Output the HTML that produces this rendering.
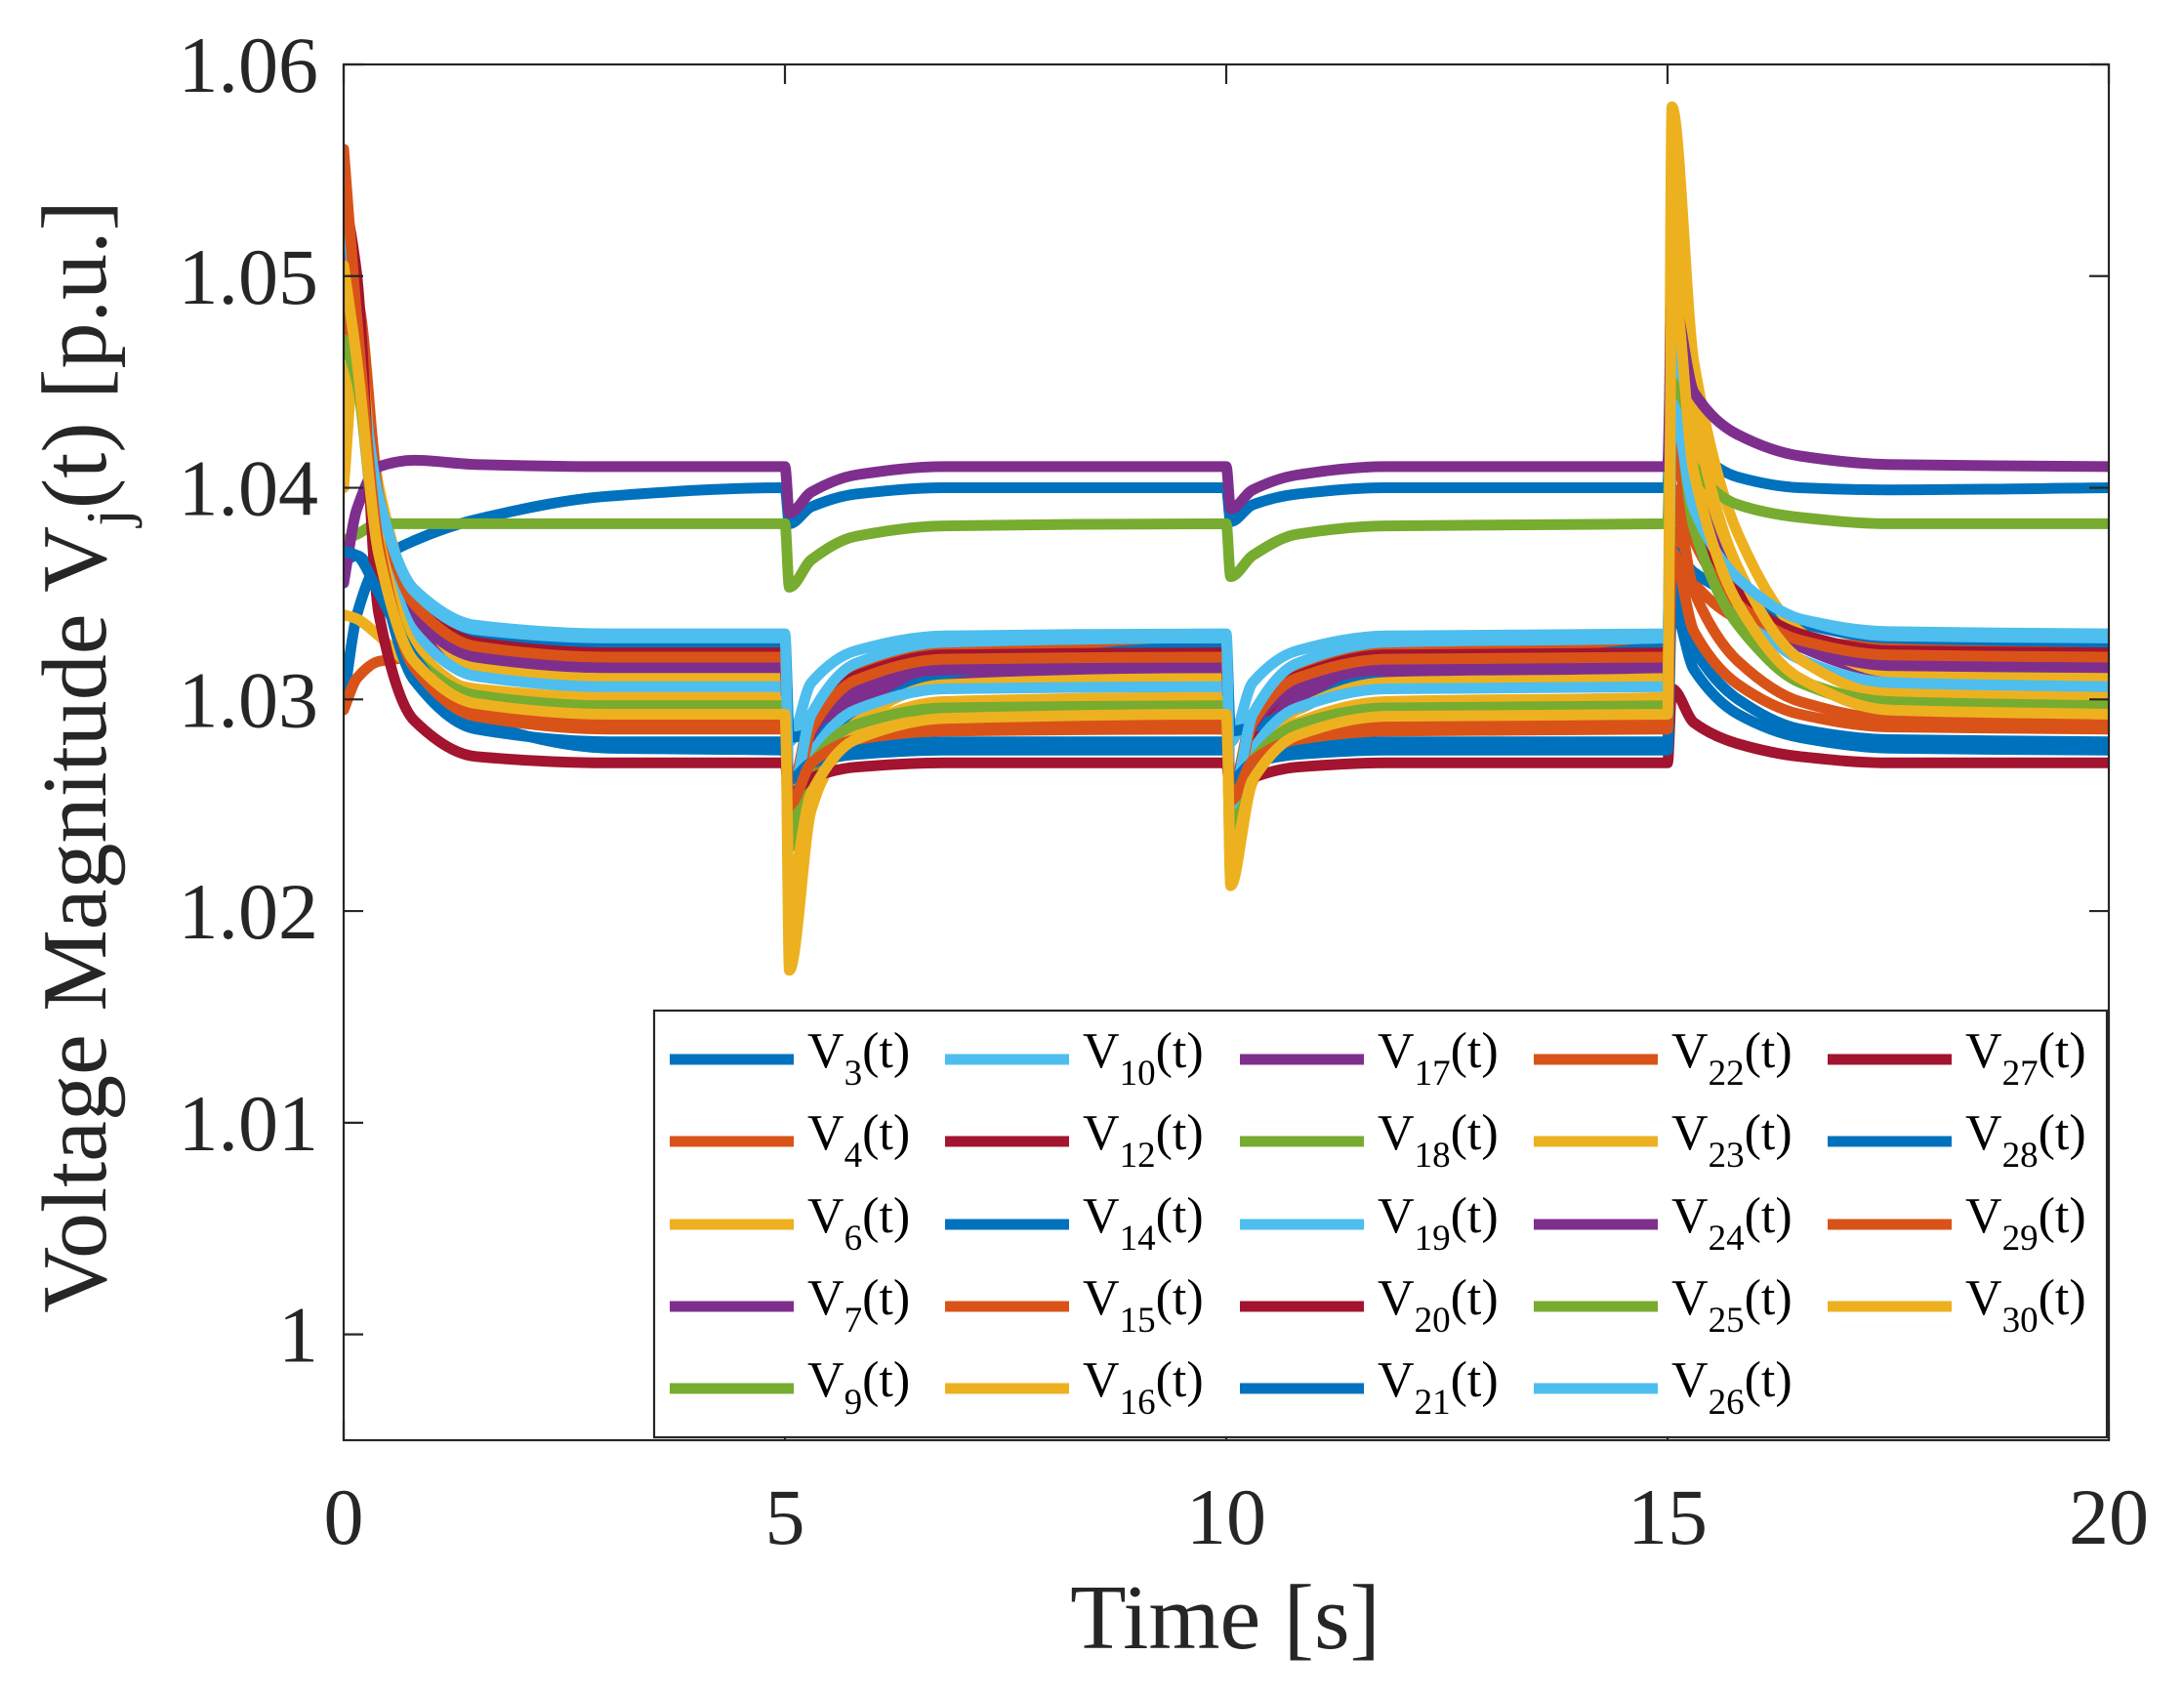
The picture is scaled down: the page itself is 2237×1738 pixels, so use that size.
<!DOCTYPE html>
<html><head><meta charset="utf-8"><style>
html,body{margin:0;padding:0;background:#fff;}
svg{display:block;font-family:"Liberation Serif","Times New Roman",serif;}
text{font-family:"Liberation Serif","Times New Roman",serif;}
</style></head><body>
<svg id="chart" width="2237" height="1738" viewBox="0 0 2237 1738" xmlns="http://www.w3.org/2000/svg">
<defs><clipPath id="pc"><rect x="352" y="66" width="1808" height="1409"/></clipPath></defs>
<rect x="0" y="0" width="2237" height="1738" fill="#fff"/>
<g id="lines" clip-path="url(#pc)"></g>
<g id="axes"></g>
<g id="legend"></g>
</svg>
<script>
const T = [0,0.15,0.4,0.8,1.5,3,5,5.05,5.3,5.8,6.8,10,10.05,10.3,10.8,11.8,15,15.05,15.3,15.8,16.5,17.5,20];
const xTicks = [0,5,10,15,20];
const yTicks = [1.0,1.01,1.02,1.03,1.04,1.05,1.06];
const yTickLabels = ["1","1.01","1.02","1.03","1.04","1.05","1.06"];
const names = ["3","4","6","7","9","10","12","14","15","16","17","18","19","20","21","22","23","24","25","26","27","28","29","30"];
const colors = ["#0072BD","#D95319","#EDB120","#7E2F8E","#77AC30","#4DBEEE","#A2142F","#0072BD","#D95319","#EDB120","#7E2F8E","#77AC30","#4DBEEE","#A2142F","#0072BD","#D95319","#EDB120","#7E2F8E","#77AC30","#4DBEEE","#A2142F","#0072BD","#D95319","#EDB120"];
const V3 = [1.0300,1.0340,1.0365,1.0375,1.0385,1.0396,1.0400,1.0383,1.0391,1.0397,1.0400,1.0400,1.0384,1.0392,1.0397,1.0400,1.0400,1.0460,1.0420,1.0405,1.0400,1.0399,1.0400];
const V4 = [1.0295,1.0310,1.0318,1.0320,1.0323,1.0324,1.0324,1.0255,1.0293,1.0314,1.0323,1.0324,1.0255,1.0293,1.0314,1.0323,1.0324,1.0380,1.0355,1.0338,1.0328,1.0325,1.0324];
const V6 = [1.0340,1.0338,1.0330,1.0315,1.0305,1.0301,1.0301,1.0200,1.0256,1.0286,1.0299,1.0301,1.0220,1.0265,1.0289,1.0299,1.0301,1.0520,1.0421,1.0356,1.0319,1.0303,1.0301];
const V7 = [1.0470,1.0465,1.0380,1.0334,1.0316,1.0311,1.0311,1.0235,1.0277,1.0300,1.0310,1.0311,1.0245,1.0281,1.0301,1.0310,1.0311,1.0480,1.0404,1.0353,1.0325,1.0313,1.0311];
const V9 = [1.0480,1.0455,1.0367,1.0319,1.0300,1.0295,1.0295,1.0230,1.0266,1.0285,1.0294,1.0295,1.0235,1.0268,1.0286,1.0294,1.0295,1.0460,1.0386,1.0336,1.0308,1.0297,1.0295];
const V10 = [1.0555,1.0470,1.0394,1.0352,1.0335,1.0331,1.0331,1.0280,1.0308,1.0323,1.0330,1.0331,1.0280,1.0308,1.0323,1.0330,1.0331,1.0420,1.0380,1.0353,1.0338,1.0332,1.0331];
const V12 = [1.0545,1.0490,1.0395,1.0344,1.0323,1.0318,1.0318,1.0240,1.0283,1.0306,1.0316,1.0318,1.0245,1.0285,1.0307,1.0317,1.0318,1.0455,1.0393,1.0352,1.0329,1.0319,1.0318];
const V14 = [1.0365,1.0368,1.0355,1.0338,1.0330,1.0327,1.0327,1.0282,1.0284,1.0292,1.0312,1.0325,1.0285,1.0287,1.0295,1.0314,1.0326,1.0370,1.0360,1.0348,1.0336,1.0329,1.0327];
const V15 = [1.0470,1.0488,1.0379,1.0320,1.0296,1.0290,1.0290,1.0240,1.0268,1.0283,1.0289,1.0290,1.0245,1.0270,1.0283,1.0289,1.0290,1.0400,1.0351,1.0318,1.0299,1.0291,1.0290];
const V16 = [1.0400,1.0472,1.0400,1.0345,1.0315,1.0310,1.0310,1.0172,1.0248,1.0289,1.0307,1.0310,1.0212,1.0266,1.0295,1.0308,1.0310,1.0580,1.0459,1.0378,1.0332,1.0313,1.0310];
const V17 = [1.0540,1.0475,1.0387,1.0339,1.0320,1.0315,1.0315,1.0245,1.0284,1.0305,1.0314,1.0315,1.0255,1.0288,1.0306,1.0314,1.0315,1.0440,1.0384,1.0346,1.0325,1.0316,1.0315];
const V18 = [1.0375,1.0378,1.0383,1.0383,1.0383,1.0383,1.0383,1.0353,1.0366,1.0377,1.0382,1.0383,1.0358,1.0368,1.0378,1.0382,1.0383,1.0470,1.0410,1.0392,1.0386,1.0383,1.0383];
const V19 = [1.0550,1.0480,1.0384,1.0332,1.0311,1.0306,1.0306,1.0235,1.0274,1.0295,1.0305,1.0306,1.0240,1.0276,1.0296,1.0305,1.0306,1.0470,1.0396,1.0347,1.0319,1.0308,1.0306];
const V20 = [1.0520,1.0480,1.0393,1.0346,1.0327,1.0322,1.0322,1.0250,1.0290,1.0311,1.0321,1.0322,1.0250,1.0290,1.0311,1.0321,1.0322,1.0430,1.0381,1.0349,1.0331,1.0323,1.0322];
const V21 = [1.0555,1.0470,1.0366,1.0309,1.0286,1.0280,1.0280,1.0258,1.0270,1.0277,1.0280,1.0280,1.0258,1.0270,1.0277,1.0280,1.0280,1.0360,1.0324,1.0300,1.0286,1.0281,1.0280];
const V22 = [1.0480,1.0488,1.0396,1.0345,1.0325,1.0320,1.0320,1.0245,1.0286,1.0309,1.0319,1.0320,1.0250,1.0289,1.0310,1.0319,1.0320,1.0420,1.0375,1.0345,1.0328,1.0321,1.0320];
const V23 = [1.0440,1.0470,1.0376,1.0325,1.0304,1.0299,1.0299,1.0190,1.0250,1.0283,1.0297,1.0299,1.0215,1.0261,1.0286,1.0297,1.0299,1.0550,1.0437,1.0362,1.0319,1.0302,1.0299];
const V24 = [1.0355,1.0390,1.0410,1.0413,1.0411,1.0410,1.0410,1.0388,1.0398,1.0406,1.0410,1.0410,1.0390,1.0399,1.0406,1.0410,1.0410,1.0490,1.0445,1.0425,1.0415,1.0411,1.0410];
const V25 = [1.0470,1.0450,1.0366,1.0320,1.0302,1.0297,1.0297,1.0235,1.0269,1.0288,1.0296,1.0297,1.0240,1.0271,1.0288,1.0296,1.0297,1.0450,1.0381,1.0335,1.0309,1.0299,1.0297];
const V26 = [1.0550,1.0475,1.0395,1.0351,1.0333,1.0329,1.0329,1.0250,1.0293,1.0317,1.0327,1.0329,1.0250,1.0293,1.0317,1.0327,1.0329,1.0440,1.0390,1.0357,1.0338,1.0330,1.0329];
const V27 = [1.0540,1.0500,1.0340,1.0290,1.0273,1.0270,1.0270,1.0255,1.0263,1.0268,1.0270,1.0270,1.0255,1.0263,1.0268,1.0270,1.0270,1.0305,1.0289,1.0279,1.0273,1.0270,1.0270];
const V28 = [1.0370,1.0368,1.0350,1.0320,1.0290,1.0277,1.0276,1.0262,1.0270,1.0274,1.0276,1.0276,1.0262,1.0270,1.0274,1.0276,1.0276,1.0345,1.0314,1.0293,1.0282,1.0277,1.0276];
const V29 = [1.0560,1.0480,1.0373,1.0315,1.0292,1.0286,1.0286,1.0250,1.0270,1.0281,1.0285,1.0286,1.0252,1.0271,1.0281,1.0285,1.0286,1.0370,1.0332,1.0307,1.0293,1.0287,1.0286];
const V30 = [1.0505,1.0460,1.0368,1.0318,1.0298,1.0293,1.0293,1.0210,1.0256,1.0281,1.0291,1.0293,1.0225,1.0262,1.0283,1.0292,1.0293,1.0500,1.0407,1.0345,1.0310,1.0295,1.0293];
const series = [V3,V4,V6,V7,V9,V10,V12,V14,V15,V16,V17,V18,V19,V20,V21,V22,V23,V24,V25,V26,V27,V28,V29,V30];

const NS="http://www.w3.org/2000/svg";
const L=352,R=2160,TOP=66,BOT=1475,XMIN=0,XMAX=20,YMIN=0.995,YMAX=1.06;
function sx(t){return L+(t-XMIN)/(XMAX-XMIN)*(R-L);}
function sy(v){return BOT-(v-YMIN)/(YMAX-YMIN)*(BOT-TOP);}
function mk(tag,attrs,parent){const e=document.createElementNS(NS,tag);for(const k in attrs)e.setAttribute(k,attrs[k]);parent.appendChild(e);return e;}

function monoPath(xs,ys){
  const n=xs.length,d=[],m=new Array(n).fill(0);
  for(let i=0;i<n-1;i++)d.push((ys[i+1]-ys[i])/(xs[i+1]-xs[i]));
  m[0]=d[0];m[n-1]=d[n-2];
  for(let i=1;i<n-1;i++){ if(d[i-1]*d[i]<=0)m[i]=0; else m[i]=2/(1/d[i-1]+1/d[i]); }
  let p="M"+xs[0].toFixed(1)+","+ys[0].toFixed(1);
  for(let i=0;i<n-1;i++){
    const h=xs[i+1]-xs[i];
    p+=" C"+(xs[i]+h/3).toFixed(1)+","+(ys[i]+m[i]*h/3).toFixed(1)+" "+(xs[i+1]-h/3).toFixed(1)+","+(ys[i+1]-m[i+1]*h/3).toFixed(1)+" "+xs[i+1].toFixed(1)+","+ys[i+1].toFixed(1);
  }
  return p;
}

const lg=document.getElementById('lines');
series.forEach((vals,k)=>{
  const xs=T.map(sx),ys=vals.map(sy);
  const path=mk('path',{d:monoPath(xs,ys),fill:'none',stroke:colors[k],'stroke-width':11,'stroke-linejoin':'round','stroke-linecap':'round'},lg);
  
  
});

const ax=document.getElementById('axes');
const box=mk('rect',{x:L,y:TOP,width:R-L,height:BOT-TOP,fill:'none',stroke:'#262626','stroke-width':2.2},ax);


xTicks.forEach(t=>{
  const x=sx(t);
  mk('line',{x1:x,y1:BOT,x2:x,y2:BOT-20,stroke:'#262626','stroke-width':2.2},ax);
  mk('line',{x1:x,y1:TOP,x2:x,y2:TOP+20,stroke:'#262626','stroke-width':2.2},ax);
  const tx=mk('text',{x:x,y:1581,'text-anchor':'middle','font-size':82,fill:'#262626'},ax);
  tx.textContent=String(t);
  
  
});
yTicks.forEach((v,i)=>{
  const y=sy(v);
  mk('line',{x1:L,y1:y,x2:L+20,y2:y,stroke:'#262626','stroke-width':2.2},ax);
  mk('line',{x1:R,y1:y,x2:R-20,y2:y,stroke:'#262626','stroke-width':2.2},ax);
  const tx=mk('text',{x:326,y:y+28,'text-anchor':'end','font-size':82,fill:'#262626'},ax);
  tx.textContent=yTickLabels[i];
  
  
});
const xt=mk('text',{x:1255,y:1688,'text-anchor':'middle','font-size':94,fill:'#262626'},ax);
xt.textContent='Time [s]';


const yt=mk('text',{x:0,y:0,'text-anchor':'middle','font-size':94,fill:'#262626',transform:'translate(108,775) rotate(-90)'},ax);
yt.innerHTML='Voltage Magnitude V<tspan font-size="64" dy="24">j</tspan><tspan dy="-24">(t) [p.u.]</tspan>';



const lgd=document.getElementById('legend');
const lbox=mk('rect',{x:670,y:1035,width:1488,height:437,fill:'#fff',stroke:'#262626','stroke-width':2.2},lgd);


const colX=[686,968,1270,1571,1872];
const rowY=[1085,1169,1254,1338,1422];
names.forEach((nm,k)=>{
  const c=Math.floor(k/5),r=k%5;
  const g=mk('g',{},lgd);
  
  
  mk('line',{x1:colX[c],y1:rowY[r],x2:colX[c]+127,y2:rowY[r],stroke:colors[k],'stroke-width':11},g);
  const t=mk('text',{x:colX[c]+141,y:rowY[r]+8,'font-size':52,fill:'#000'},g);
  t.innerHTML='V<tspan font-size="37" dy="18">'+nm+'</tspan><tspan dy="-18">(t)</tspan>';
});
</script>
</body></html>
